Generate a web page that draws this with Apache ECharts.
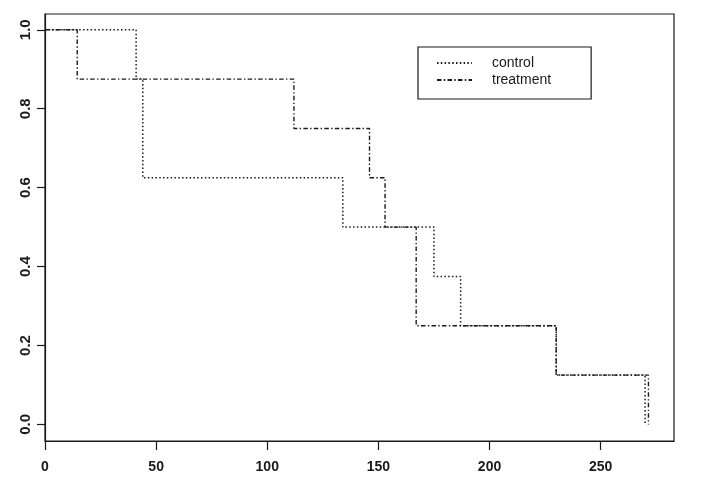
<!DOCTYPE html>
<html>
<head>
<meta charset="utf-8">
<script src="https://cdn.jsdelivr.net/npm/echarts@6/dist/echarts.min.js"></script>
<style>html,body{margin:0;padding:0;background:#fff;}#c{width:709px;height:489px;}</style>
</head>
<body>
<div id="c"></div>
<script>
// Kaplan-Meier step data (time at which survival value starts)
const controlTimes   = [0, 41, 44, 134, 175, 187, 230, 270];
const controlSurv    = [1.0, 0.875, 0.625, 0.5, 0.375, 0.25, 0.125, 0.0];
const treatmentTimes = [0, 14.5, 112, 146, 153, 167, 230, 271.5];
const treatmentSurv  = [1.0, 0.875, 0.75, 0.625, 0.5, 0.25, 0.125, 0.0];
const xTicks = [0, 50, 100, 150, 200, 250];
const yTicks = [0, 0.2, 0.4, 0.6, 0.8, 1.0];
const seriesNames = ['control', 'treatment'];

const pair = (xs, ys) => xs.map((x, i) => [x, ys[i]]);
const FONT = 'Liberation Sans, Arial, Helvetica, sans-serif';
const INK = '#1a1a1a';

const chart = echarts.init(document.getElementById('c'), null, {renderer: 'canvas'});
chart.setOption({
  animation: false,
  backgroundColor: '#fff',
  grid: {left: 45, right: 35, top: 14, bottom: 48, show: true, borderColor: INK, borderWidth: 1.2, containLabel: false},
  xAxis: {
    type: 'value', min: 0, max: 283, interval: 50,
    splitLine: {show: false},
    axisLine: {show: true, onZero: false, lineStyle: {color: INK, width: 1.2}},
    axisTick: {show: true, length: 9, customValues: xTicks, lineStyle: {color: INK, width: 1.2}},
    axisLabel: {customValues: xTicks, margin: 19, color: INK, fontSize: 14, fontFamily: FONT, fontWeight: 'bold'}
  },
  yAxis: {
    type: 'value', min: -0.042, max: 1.04,
    splitLine: {show: false},
    axisLine: {show: true, onZero: false, lineStyle: {color: INK, width: 1.2}},
    axisTick: {show: true, length: 8, customValues: yTicks, lineStyle: {color: INK, width: 1.2}},
    axisLabel: {customValues: yTicks, rotate: 90, margin: 12, color: INK, fontSize: 15, fontFamily: FONT, fontWeight: 'bold',
      formatter: v => v.toFixed(1)}
  },
  legend: {
    orient: 'vertical', left: 418, top: 47,
    padding: [9, 40, 12, 18],
    borderColor: INK, borderWidth: 1.2,
    itemWidth: 35, itemHeight: 14, itemGap: 3,
    itemStyle: {opacity: 0},
    textStyle: {fontSize: 14, fontFamily: FONT, color: INK, padding: [3, 0, 0, 15]},
    data: seriesNames
  },
  series: [
    {
      name: seriesNames[0], type: 'line', step: 'end', showSymbol: false, symbol: 'none',
      data: pair(controlTimes, controlSurv),
      lineStyle: {color: INK, width: 1.5, type: [1.5, 2.3]},
      itemStyle: {color: INK}
    },
    {
      name: seriesNames[1], type: 'line', step: 'end', showSymbol: false, symbol: 'none',
      data: pair(treatmentTimes, treatmentSurv),
      lineStyle: {color: INK, width: 1.4, type: [4.5, 2.3, 1.4, 2.3]},
      itemStyle: {color: INK}
    }
  ]
});
</script>
</body>
</html>
